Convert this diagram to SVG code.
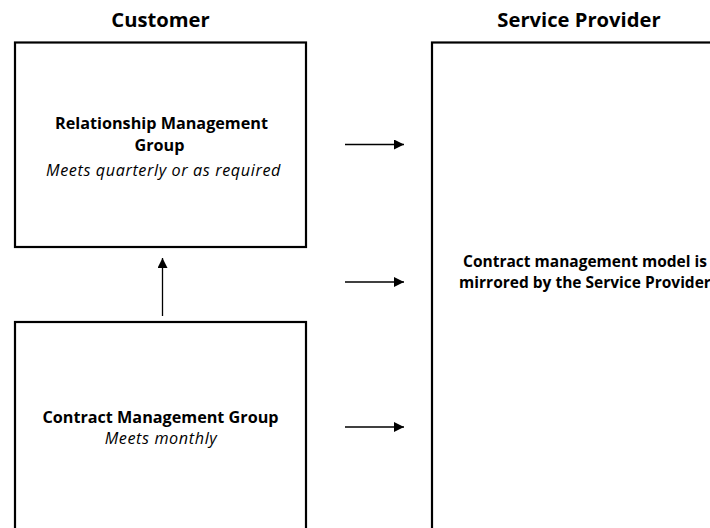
<svg xmlns="http://www.w3.org/2000/svg" width="710" height="528" viewBox="0 0 710 528">
  <style>
    .box { fill: #ffffff; stroke: #000000; stroke-width: 2.2; }
    .hdr { font-family: "Open Sans", "Liberation Sans", sans-serif; font-weight: bold; font-size: 20.2px; fill: #000000; text-anchor: middle; }
    .ttl { font-family: "Open Sans", "Liberation Sans", sans-serif; font-weight: bold; font-size: 16.2px; fill: #000000; text-anchor: middle; }
    .sp { font-family: "Open Sans", "Liberation Sans", sans-serif; font-weight: bold; font-size: 15.5px; fill: #000000; text-anchor: middle; }
    .sub { font-family: "Open Sans", "Liberation Sans", sans-serif; font-style: italic; font-size: 16.2px; letter-spacing: 0.6px; fill: #000000; text-anchor: middle; }
    .conn { stroke: #000000; stroke-width: 1.3; fill: none; marker-end: url(#arrow); }
  </style>
  <defs>
    <marker id="arrow" markerUnits="userSpaceOnUse" markerWidth="11" markerHeight="10" refX="10" refY="5" orient="auto">
      <path d="M0,0 L10,5 L0,10 z" fill="#000000"/>
    </marker>
  </defs>
  <rect x="0" y="0" width="710" height="528" fill="#ffffff"/>

  <g id="header-customer">
    <text class="hdr" x="160.5" y="26.5">Customer</text>
  </g>
  <g id="header-provider">
    <text class="hdr" x="579" y="26.5">Service Provider</text>
  </g>

  <g id="node-relationship">
    <rect class="box" x="15" y="42.5" width="291" height="204.5"/>
    <text class="ttl" x="161.5" y="129">Relationship Management</text>
    <text class="ttl" x="159.5" y="150.5">Group</text>
    <text class="sub" x="163.5" y="175.5">Meets quarterly or as required</text>
  </g>

  <g id="node-contract">
    <rect class="box" x="15" y="322" width="291" height="230"/>
    <text class="ttl" x="160.5" y="423">Contract Management Group</text>
    <text class="sub" x="161" y="444">Meets monthly</text>
  </g>

  <g id="node-provider">
    <rect class="box" x="432" y="42.5" width="306" height="510"/>
    <text class="sp" x="585" y="266.5">Contract management model is</text>
    <text class="sp" x="585" y="287.5">mirrored by the Service Provider</text>
  </g>

  <g id="connectors">
    <line class="conn" x1="162.5" y1="316" x2="162.5" y2="258"/>
    <line class="conn" x1="345" y1="144.5" x2="404" y2="144.5"/>
    <line class="conn" x1="345" y1="282" x2="404" y2="282"/>
    <line class="conn" x1="345" y1="427" x2="404" y2="427"/>
  </g>
</svg>
